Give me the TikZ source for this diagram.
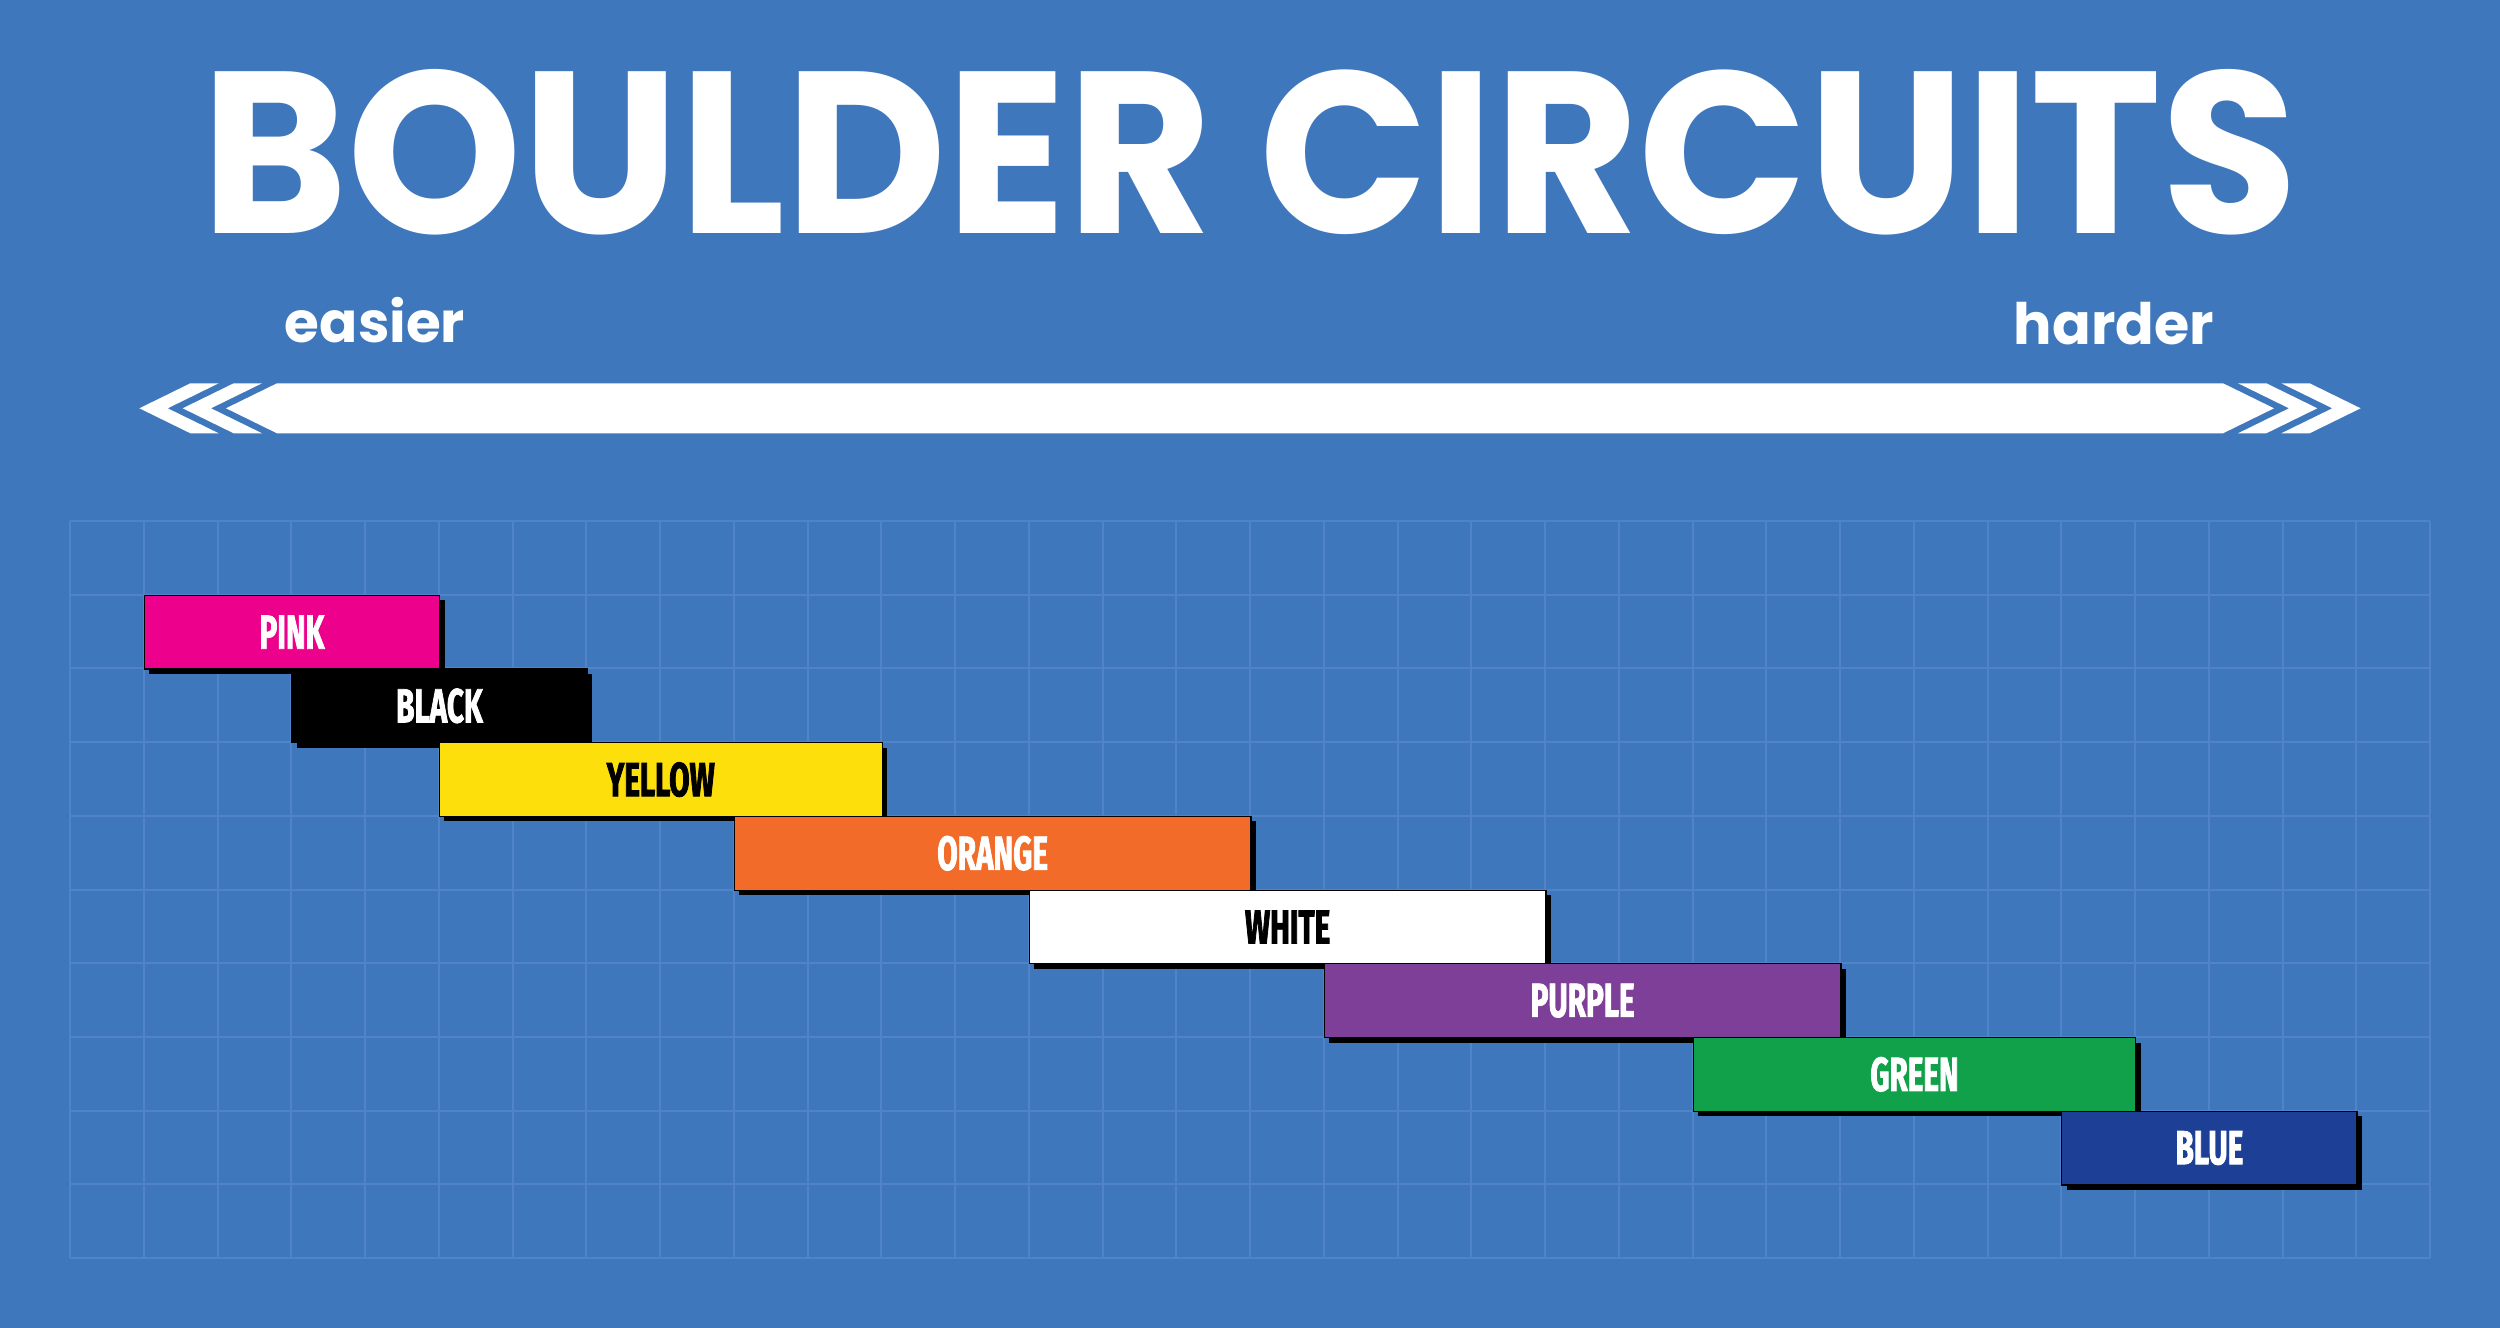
\documentclass[tikz,border=0pt]{standalone}
\usepackage{fontspec}
\usetikzlibrary{shadows}
\newfontfamily\titlefont{Poppins}
\newfontfamily\barfont[FakeStretch=0.62,FakeBold=1.6]{Fira Sans}
\definecolor{bg}{HTML}{3F77BC}
\definecolor{gridc}{HTML}{5084C6}
\definecolor{cpink}{HTML}{EC008C}
\definecolor{cyellow}{HTML}{FDE00B}
\definecolor{corange}{HTML}{F26B29}
\definecolor{cpurple}{HTML}{7E3F98}
\definecolor{cgreen}{HTML}{12A14B}
\definecolor{cblue}{HTML}{1D3F95}
\tikzset{
  gridline/.style={draw=gridc, line width=0.02cm},
  arrowpart/.style={fill=white},
  headtxt/.style={text=white, inner sep=0, font=\titlefont\bfseries},
  bar/.style={rectangle, inner sep=0, draw=black, line width=0.012cm,
    minimum height=0.737cm, anchor=north west,
    font=\barfont\bfseries\fontsize{13.6}{13.6}\selectfont,
    drop shadow={opacity=1, fill=black, shadow xshift=0.05cm, shadow yshift=-0.05cm}}
}
\begin{document}
\begin{tikzpicture}[x=0.01cm,y=-0.01cm]
\fill[bg] (0,0) rectangle (2500,1328);
\useasboundingbox (0,0) rectangle (2500,1328);
% grid
\foreach \i in {0,...,32} \draw[gridline] ({70+\i*73.75},521) -- ({70+\i*73.75},1258);
\foreach \j in {0,...,10} \draw[gridline] (70,{521+\j*73.7}) -- (2430,{521+\j*73.7});
% title
\node[headtxt, anchor=base] (title) at (1250,234) {\resizebox{20.95cm}{1.64cm}{BOULDER CIRCUITS}};
\node[headtxt, anchor=base] (easier) at (375,342.5) {\resizebox{1.8cm}{!}{easier}};
\node[headtxt, anchor=base] (harder) at (2114,344.5) {\resizebox{2.0cm}{!}{harder}};
% arrow
\fill[arrowpart] (277,383.3) -- (2223,383.3) -- (2274,408.3) -- (2223,433.3) -- (277,433.3) -- (226,408.3) -- cycle;
\foreach \a in {233.7,190.4}{
  \fill[arrowpart] (\a,383.3) -- ({\a+28.3},383.3) -- ({\a-22.7},408.3) -- ({\a+28.3},433.3) -- (\a,433.3) -- ({\a-51},408.3) -- cycle;
  \fill[arrowpart] ({2500-\a},383.3) -- ({2500-\a-28.3},383.3) -- ({2500-\a+22.7},408.3) -- ({2500-\a-28.3},433.3) -- ({2500-\a},433.3) -- ({2500-\a+51},408.3) -- cycle;
}
% bars
\foreach \nm/\fc/\tc/\s/\e/\r/\lab in {
  bpink/cpink/white/1/5/1/PINK,
  bblack/black/white/3/7/2/BLACK,
  byellow/cyellow/black/5/11/3/YELLOW,
  borange/corange/white/9/16/4/ORANGE,
  bwhite/white/black/13/20/5/WHITE,
  bpurple/cpurple/white/17/24/6/PURPLE,
  bgreen/cgreen/white/22/28/7/GREEN,
  bblue/cblue/white/27/31/8/BLUE}{
  \pgfmathsetmacro\w{(\e-\s)*0.7375}
  \node[bar, fill=\fc, text=\tc, minimum width=\w cm] (\nm) at ({70+\s*73.75},{521+\r*73.7}) {\lab};
}
\end{tikzpicture}
\end{document}
